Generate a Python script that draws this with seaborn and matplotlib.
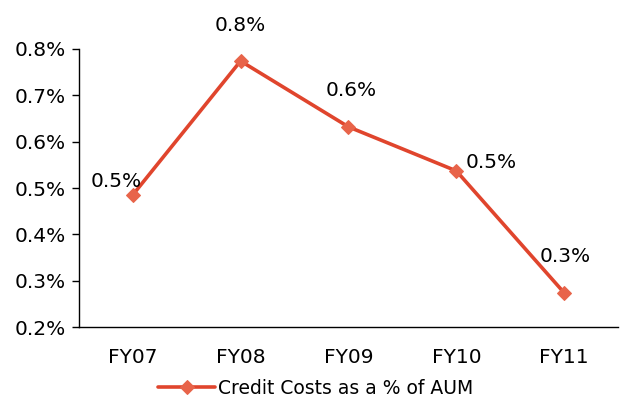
import numpy as np
import pandas as pd
import matplotlib
matplotlib.use("Agg")
import matplotlib.pyplot as plt
import seaborn as sns
from matplotlib.ticker import FuncFormatter, FixedLocator

years = ["FY07", "FY08", "FY09", "FY10", "FY11"]
credit_cost = [0.485, 0.774, 0.632, 0.537, 0.274]  # % of AUM
series_name = "Credit Costs as a % of AUM"
y_ticks = [0.2, 0.3, 0.4, 0.5, 0.6, 0.7, 0.8]

sns.set_theme(style="white")
plt.rcParams["font.family"] = ["DejaVu Sans"]

df = pd.DataFrame({"year": years, "cost": credit_cost, "series": series_name})

fig = plt.figure(figsize=(6.2, 3.98), dpi=100)
ax = fig.add_axes([0.127, 0.178, 0.870, 0.699])

line_color = "#E0452D"
marker_color = "#E8644A"
sns.lineplot(data=df, x="year", y="cost", hue="series", palette=[line_color],
             marker="D", markersize=7, markerfacecolor=marker_color,
             markeredgecolor=marker_color, linewidth=2.6, sort=False, ax=ax)

fs = 14.5
ax.set_xlim(-0.5, len(years) - 0.5)
ax.set_ylim(0.2, 0.8)
ax.set_yticks(y_ticks)
ax.yaxis.set_major_formatter(FuncFormatter(lambda v, p: f"{v:.1f}%"))
ax.set_xticks(range(len(years)))
ax.set_xticklabels(years)
ax.xaxis.set_minor_locator(FixedLocator(np.arange(-0.5, len(years), 1.0)))
ax.tick_params(axis="x", which="major", length=0, pad=15, labelsize=fs, colors="black")
ax.tick_params(axis="x", which="minor", length=5, width=1, color="black", direction="out")
ax.tick_params(axis="y", length=5, width=1, color="black", direction="out",
               labelsize=fs, pad=4, left=True, colors="black")
ax.set_xlabel("")
ax.set_ylabel("")

for side in ("top", "right"):
    ax.spines[side].set_visible(False)
for side in ("left", "bottom"):
    ax.spines[side].set_color("black")
    ax.spines[side].set_linewidth(1)

# data labels, one decimal, placed around each marker
offsets = [(-12, 10), (0, 19), (2, 19), (25, 6), (1, 19)]
for i, (v, off) in enumerate(zip(credit_cost, offsets)):
    ax.annotate(f"{v:.1f}%", (i, v), xytext=off, textcoords="offset points",
                ha="center", va="bottom" if off[1] > 10 else "center",
                fontsize=fs, color="black")

leg = ax.legend(loc="center", bbox_to_anchor=(0.44, -0.22), frameon=False,
                fontsize=13.5, handlelength=3.0, handletextpad=0.2, borderaxespad=0,
                labelcolor="black")

fig.savefig("out.png", dpi=100)
